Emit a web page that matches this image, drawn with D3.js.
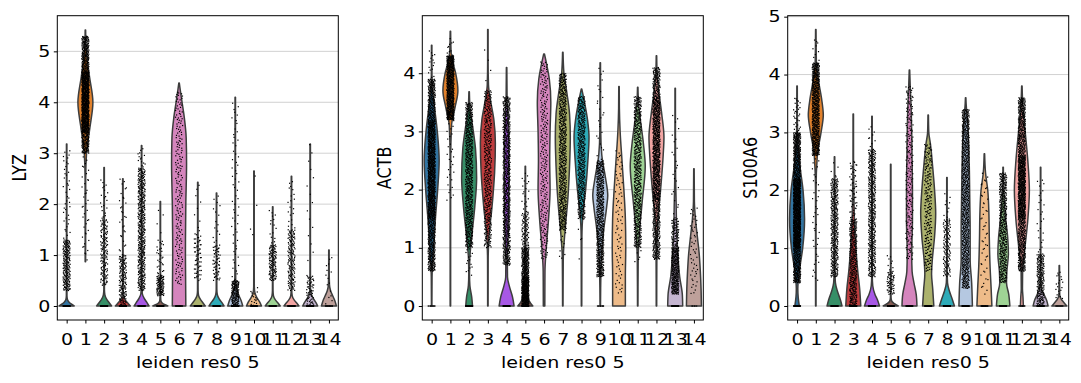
<!DOCTYPE html>
<html>
<head>
<meta charset="utf-8">
<script src="https://cdn.jsdelivr.net/npm/d3@7"></script>
<style>
  body { margin: 0; background: #fff; }
  svg text { font-family: "DejaVu Sans", sans-serif; fill: #000; }
</style>
</head>
<body>
<svg id="chart" width="1081" height="383"></svg>
<script>
// cluster names and the scanpy default palette
var categories = ["0","1","2","3","4","5","6","7","8","9","10","11","12","13","14"];
var palette = ["#1f77b4","#ff7f0e","#279e68","#d62728","#aa40fc","#8c564b","#e377c2",
               "#b5bd61","#17becf","#aec7e8","#ffbb78","#98df8a","#ff9896","#c5b0d5","#c49c94"];

var genes = ["LYZ", "ACTB", "S100A6"];
var lyzTicks = [0, 1, 2, 3, 4, 5];
var actbTicks = [0, 1, 2, 3, 4];
var s100a6Ticks = [0, 1, 2, 3, 4, 5];

// violin outlines: [expression, relative half width]
var lyzProfiles = [
  [[0,1],[0.04,0.6],[0.08,0.3],[0.13,0.1],[0.2,0.04],[0.6,0.03],[3.18,0.03]],
  [[0.87,0.03],[2.5,0.04],[3.0,0.15],[3.5,0.6],[4.0,1],[4.5,0.55],[4.9,0.2],[5.2,0.06],[5.42,0.03]],
  [[0,1],[0.06,0.7],[0.13,0.35],[0.22,0.1],[0.32,0.04],[0.8,0.03],[2.72,0.03]],
  [[0,1],[0.05,0.7],[0.11,0.35],[0.18,0.1],[0.28,0.04],[0.8,0.03],[2.5,0.03]],
  [[0,1],[0.07,0.7],[0.15,0.35],[0.24,0.1],[0.35,0.05],[1.0,0.035],[3.15,0.03]],
  [[0,1],[0.03,0.55],[0.06,0.25],[0.1,0.08],[0.18,0.04],[0.6,0.03],[2.05,0.03]],
  [[0,0.9],[1,0.85],[2,0.9],[2.8,1],[3.3,0.95],[3.7,0.7],[4.0,0.4],[4.25,0.15],[4.38,0.03]],
  [[0,1],[0.06,0.7],[0.13,0.35],[0.21,0.1],[0.3,0.04],[0.8,0.03],[2.43,0.03]],
  [[0,1],[0.07,0.7],[0.14,0.35],[0.23,0.1],[0.33,0.04],[0.8,0.03],[2.22,0.03]],
  [[0,1],[0.1,0.8],[0.2,0.5],[0.32,0.2],[0.45,0.06],[1.0,0.035],[4.1,0.03]],
  [[0,1],[0.08,0.75],[0.16,0.4],[0.26,0.12],[0.38,0.04],[0.8,0.03],[2.65,0.03]],
  [[0,1],[0.06,0.7],[0.12,0.35],[0.2,0.1],[0.3,0.04],[0.7,0.03],[1.95,0.03]],
  [[0,1],[0.06,0.7],[0.12,0.35],[0.2,0.1],[0.3,0.04],[0.8,0.03],[2.55,0.03]],
  [[0,1],[0.07,0.75],[0.15,0.4],[0.24,0.12],[0.35,0.04],[0.9,0.03],[3.18,0.03]],
  [[0,1],[0.1,0.8],[0.2,0.5],[0.3,0.22],[0.42,0.07],[0.7,0.035],[1.1,0.03]]
];
var actbProfiles = [
  [[0,0.03],[0.5,0.05],[1,0.25],[1.5,0.5],[2,0.8],[2.5,1],[3,0.75],[3.5,0.3],[3.8,0.08],[4.1,0.03],[4.48,0.03]],
  [[0,0.03],[2.5,0.035],[3.1,0.15],[3.4,0.6],[3.7,1],[4.0,0.7],[4.2,0.3],[4.4,0.08],[4.72,0.03]],
  [[0,0.45],[0.15,0.35],[0.35,0.1],[0.55,0.05],[0.8,0.08],[1.2,0.35],[1.7,0.75],[2.2,1],[2.7,0.85],[3.1,0.45],[3.4,0.12],[3.68,0.03]],
  [[0,0.03],[0.8,0.04],[1.2,0.15],[1.7,0.55],[2.3,0.9],[2.8,1],[3.2,0.8],[3.5,0.4],[3.8,0.08],[4.2,0.03],[4.75,0.03]],
  [[0,1],[0.15,0.8],[0.35,0.35],[0.5,0.12],[0.8,0.1],[1.2,0.2],[2,0.3],[2.7,0.3],[3.2,0.2],[3.6,0.06],[4.1,0.03]],
  [[0,1],[0.08,0.55],[0.18,0.3],[0.4,0.15],[0.8,0.08],[1.3,0.04],[2.4,0.03]],
  [[0,0.1],[0.6,0.12],[1.0,0.3],[1.5,0.6],[2,0.8],[2.5,0.75],[3.0,0.8],[3.5,0.9],[3.9,0.7],[4.15,0.35],[4.33,0.05]],
  [[0,0.03],[0.8,0.06],[1.3,0.3],[1.8,0.65],[2.4,0.9],[2.9,1],[3.3,0.9],[3.7,0.5],[4.0,0.15],[4.36,0.03]],
  [[0,0.03],[1.2,0.05],[1.6,0.2],[2.0,0.55],[2.5,0.85],[2.9,1],[3.2,0.8],[3.5,0.4],[3.73,0.03]],
  [[0,0.03],[0.3,0.05],[0.8,0.15],[1.3,0.45],[1.7,0.85],[1.9,1],[2.2,0.7],[2.6,0.2],[3.0,0.06],[4.18,0.03]],
  [[0,0.85],[0.5,0.85],[1,0.9],[1.5,0.85],[2.0,0.65],[2.5,0.4],[3.0,0.15],[3.4,0.05],[3.77,0.03]],
  [[0,0.03],[0.8,0.06],[1.3,0.25],[1.8,0.6],[2.4,1],[2.8,0.75],[3.2,0.35],[3.5,0.1],[3.76,0.03]],
  [[0,0.03],[0.8,0.05],[1.5,0.2],[2.0,0.55],[2.6,0.9],[2.9,1],[3.3,0.7],[3.7,0.3],[4.0,0.08],[4.3,0.03]],
  [[0,1],[0.2,0.95],[0.5,0.6],[0.9,0.35],[1.3,0.2],[1.8,0.12],[2.3,0.05],[2.8,0.035],[3.74,0.03]],
  [[0,1],[0.3,0.95],[0.6,0.85],[0.9,0.7],[1.2,0.45],[1.5,0.2],[1.8,0.06],[2.36,0.03]]
];
var s100a6Profiles = [
  [[0,0.3],[0.15,0.15],[0.3,0.1],[0.6,0.3],[1.0,0.75],[1.5,1],[2.0,0.8],[2.4,0.4],[2.8,0.12],[3.2,0.04],[3.8,0.03]],
  [[0,0.03],[2,0.035],[2.6,0.2],[3.0,0.7],[3.3,1],[3.6,0.75],[3.9,0.35],[4.2,0.08],[4.78,0.03]],
  [[0,1],[0.1,0.8],[0.25,0.4],[0.4,0.12],[0.6,0.05],[1.2,0.035],[2.58,0.03]],
  [[0,1],[0.3,0.85],[0.6,0.6],[1.0,0.35],[1.5,0.15],[2.0,0.08],[2.5,0.035],[3.32,0.03]],
  [[0,1],[0.1,0.75],[0.2,0.4],[0.35,0.1],[0.5,0.04],[1.2,0.035],[3.28,0.03]],
  [[0,1],[0.04,0.5],[0.08,0.15],[0.15,0.04],[0.6,0.03],[2.45,0.03]],
  [[0,1],[0.2,0.9],[0.4,0.6],[0.6,0.35],[0.9,0.3],[1.5,0.4],[2.0,0.4],[2.5,0.35],[3.0,0.3],[3.5,0.2],[3.8,0.1],[4.08,0.03]],
  [[0,0.75],[0.3,0.6],[0.55,0.45],[0.8,0.55],[1.2,0.85],[1.6,1],[2.0,0.85],[2.4,0.6],[2.8,0.3],[3.0,0.08],[3.3,0.03]],
  [[0,1],[0.12,0.7],[0.25,0.35],[0.4,0.08],[0.6,0.035],[2.22,0.03]],
  [[0,0.9],[0.4,0.8],[0.8,0.6],[1.3,0.6],[1.8,0.55],[2.3,0.5],[2.8,0.4],[3.2,0.25],[3.5,0.06],[3.6,0.03]],
  [[0,1],[0.3,0.9],[0.7,0.75],[1.2,0.65],[1.6,0.6],[2.0,0.45],[2.3,0.15],[2.63,0.03]],
  [[0,0.9],[0.2,0.75],[0.4,0.45],[0.6,0.5],[0.9,0.7],[1.2,0.6],[1.5,0.35],[1.9,0.12],[2.2,0.04],[2.4,0.03]],
  [[0,0.2],[0.15,0.15],[0.3,0.08],[0.6,0.1],[1.0,0.4],[1.5,0.8],[2.0,1],[2.5,0.8],[3.0,0.45],[3.4,0.15],[3.8,0.03]],
  [[0,1],[0.1,0.8],[0.2,0.45],[0.3,0.12],[0.5,0.035],[1.0,0.03],[2.4,0.03]],
  [[0,1],[0.06,0.6],[0.12,0.25],[0.2,0.05],[0.7,0.03]]
];

// strip points as bands: [low, high, count]
var lyzDots = [
  [[0,0,60],[0.3,1.3,200],[1.3,3.1,40]],
  [[3.0,5.3,700],[3.4,4.6,400],[0.9,3.0,40]],
  [[0,0,60],[0.4,1.7,140],[1.7,2.5,20]],
  [[0,0,60],[0,1.0,150],[1.0,2.5,30]],
  [[0,0,60],[0.3,2.7,450],[2.7,3.1,15]],
  [[0,0,40],[0.2,0.6,100],[0.6,1.3,30],[1.3,2.0,4]],
  [[0,0,20],[0.4,4.2,200]],
  [[0,0,60],[0.5,1.4,60],[1.4,2.4,10]],
  [[0,0,60],[0.5,1.2,60],[1.2,2.2,15]],
  [[0,0,60],[0,0.5,150],[0.5,4.0,60]],
  [[0,0,30],[0,0.3,15],[0.3,2.6,5]],
  [[0,0,60],[0.5,1.2,120],[1.2,1.9,15]],
  [[0,0,60],[0.3,1.5,150],[1.5,2.5,20]],
  [[0,0,60],[0,0.6,60],[0.6,3.2,15]],
  [[0,0,15],[0,1.0,15]]
];
var actbDots = [
  [[0,0,10],[0.6,3.9,1000],[1.5,3.2,400],[3.9,4.4,15]],
  [[3.2,4.3,600],[1.8,3.2,30],[4.3,4.6,10]],
  [[0,0,40],[1.0,3.5,600],[0.5,1.0,15]],
  [[1.0,3.7,400],[3.7,4.4,5]],
  [[0,0,40],[0.7,3.6,700]],
  [[0,0,40],[0,0.5,350],[0.5,1.0,200],[1.0,1.6,80],[1.6,2.3,20]],
  [[0.8,4.2,250]],
  [[1.3,4.0,600],[0.8,1.3,10]],
  [[1.5,3.6,450],[0.8,1.5,5]],
  [[0,0,10],[0.5,2.5,550],[2.5,4.1,25]],
  [[0.2,2.7,80]],
  [[1.0,3.6,550],[0.7,1.0,5]],
  [[0.8,4.1,800],[1.8,3.6,300]],
  [[0,0,40],[0.2,1.0,300],[1.0,1.5,80],[1.5,3.3,25]],
  [[0,0,5],[0.2,1.7,50]]
];
var s100a6Dots = [
  [[0,0,40],[0.4,3.0,1000],[1.0,2.2,400],[3.0,3.6,30]],
  [[2.6,4.2,600],[0.4,2.6,40],[4.2,4.6,10]],
  [[0,0,60],[0.5,2.2,350],[2.2,2.5,5]],
  [[0,0,60],[0,1.5,350],[1.5,2.5,60]],
  [[0,0,60],[0.5,2.7,450],[2.7,3.1,10]],
  [[0,0,40],[0.2,0.6,60],[0.6,0.9,8]],
  [[0,0,30],[0.8,3.8,220]],
  [[0,0,30],[0.6,2.8,230]],
  [[0,0,60],[0.5,1.5,120],[1.5,2.0,10]],
  [[0,0,40],[0.3,3.4,800]],
  [[0,0,20],[0.2,2.3,50]],
  [[0,0,60],[0.4,2.3,450]],
  [[0,0,10],[0.6,3.6,900],[1.5,2.6,300]],
  [[0,0,60],[0,0.9,200],[0.9,2.2,25]],
  [[0,0,10],[0.1,0.6,20]]
];

var panels = [
  {gene: genes[0], left: 57.3, ticks: lyzTicks, domain: [-0.275, 5.70], profiles: lyzProfiles, dots: lyzDots, labelX: 26},
  {gene: genes[1], left: 422.3, ticks: actbTicks, domain: [-0.24, 4.988], profiles: actbProfiles, dots: actbDots, labelX: 390.5},
  {gene: genes[2], left: 787.7, ticks: s100a6Ticks, domain: [-0.242, 5.017], profiles: s100a6Profiles, dots: s100a6Dots, labelX: 756.5}
];

var plotTop = 15.7, plotBottom = 320, plotWidth = 281;
var stretch = 1.19;   // the reference glyphs are drawn wider than tall
var svg = d3.select("#chart");

function desaturate(c){
    var h = d3.hsl(c);
    h.s *= 0.75;
    return h.formatHex();
}

// van der Corput radical inverse, used to spread the strip points evenly
function radical(n, base){
    var r = 0, f = 1 / base;
    while (n > 0){
        r += f * (n % base);
        n = Math.floor(n / base);
        f /= base;
    }
    return r;
}

panels.forEach(function(p, gi){
    var x = d3.scaleLinear().domain([-0.5, 14.5]).range([p.left, p.left + plotWidth]);
    var y = d3.scaleLinear().domain(p.domain).range([plotBottom, plotTop]);
    var half = x(0.4) - x(0);
    var g = svg.append("g");

    // grid
    g.selectAll(".grid")
        .data(p.ticks)
        .enter().append("line")
            .attr("x1", p.left).attr("x2", p.left + plotWidth)
            .attr("y1", d => y(d)).attr("y2", d => y(d))
            .attr("stroke", "#cccccc")
            .attr("stroke-width", 0.9);

    // violins
    p.profiles.forEach(function(prof, ci){
        var cx = x(ci);
        var area = d3.area()
            .curve(d3.curveMonotoneY)
            .y(d => y(d[0]))
            .x0(d => cx - d[1] * half)
            .x1(d => cx + d[1] * half);
        g.append("path")
            .attr("d", area(prof))
            .attr("fill", desaturate(palette[ci]))
            .attr("stroke", "#3d3d3d")
            .attr("stroke-width", 1.5)
            .attr("stroke-linejoin", "round");
    });

    // strip points
    var jit = x(0.19) - x(0);
    p.dots.forEach(function(bands, ci){
        var cx = x(ci);
        var pts = [];
        var k = 17 + ci * 131 + gi * 977;
        bands.forEach(function(b){
            for (var i = 0; i < b[2]; i++){
                k++;
                var t = radical(k, 2);
                var u = radical(k, 3);
                pts.push([cx + (2 * u - 1) * jit, b[0] + (b[1] - b[0]) * t]);
            }
        });
        g.selectAll(null)
            .data(pts)
            .enter().append("rect")
                .attr("x", d => d[0] - 0.6)
                .attr("y", d => y(d[1]) - 0.6)
                .attr("width", 1.2)
                .attr("height", 1.2)
                .attr("fill", "#000");
    });

    // frame
    g.append("rect")
        .attr("x", p.left).attr("y", plotTop)
        .attr("width", plotWidth).attr("height", plotBottom - plotTop)
        .attr("fill", "none")
        .attr("stroke", "#000")
        .attr("stroke-width", 1);

    // y axis
    var yAxis = d3.axisLeft(y).tickValues(p.ticks).tickSize(3.5).tickPadding(3.5).tickFormat(d3.format("d"));
    g.append("g")
        .attr("transform", "translate(" + p.left + ",0)")
        .call(yAxis)
        .call(a => a.select(".domain").remove())
        .call(a => a.selectAll("text")
            .attr("font-size", 16)
            .attr("font-family", "DejaVu Sans")
            .attr("x", -7 / stretch)
            .attr("transform", "scale(" + stretch + ",1)"));

    // x axis
    var xAxis = d3.axisBottom(x).tickValues(d3.range(15)).tickSize(3.5).tickPadding(3.5)
        .tickFormat(i => categories[i]);
    g.append("g")
        .attr("transform", "translate(0," + plotBottom + ")")
        .call(xAxis)
        .call(a => a.select(".domain").remove())
        .call(a => a.selectAll("text")
            .attr("font-size", 16)
            .attr("font-family", "DejaVu Sans")
            .attr("dy", null)
            .attr("y", 25)
            .attr("transform", "scale(" + stretch + ",1)"));

    g.append("text")
        .attr("transform", "translate(" + (p.left + plotWidth / 2) + ",368) scale(" + stretch + ",1)")
        .attr("text-anchor", "middle")
        .attr("font-size", 16)
        .text("leiden res0 5");

    g.append("text")
        .attr("transform", "translate(" + p.labelX + "," + (plotTop + plotBottom) / 2 + ") scale(" + stretch + ",1) rotate(-90)")
        .attr("text-anchor", "middle")
        .attr("font-size", 16)
        .text(p.gene);
});
</script>
</body>
</html>
